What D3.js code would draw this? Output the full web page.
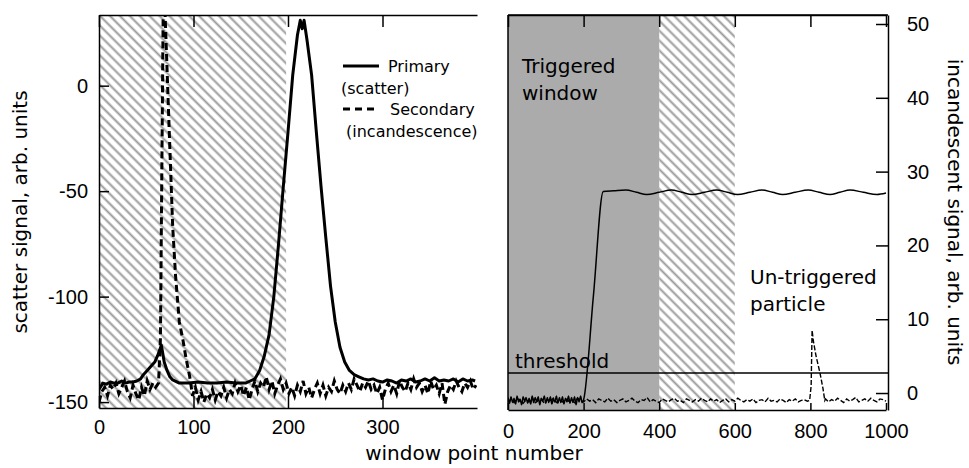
<!DOCTYPE html>
<html>
<head>
<meta charset="utf-8">
<script src="https://cdn.jsdelivr.net/npm/d3@7/dist/d3.min.js"></script>
<style>
  body { margin: 0; background: #fff; }
  svg { display: block; font-family: "DejaVu Sans", Verdana, sans-serif; }
  .axis path, .axis line { stroke: #000; stroke-width: 1.5; }
  .axis text { font-size: 20px; fill: #000; }
</style>
</head>
<body>
<svg id="chart" width="969" height="468"></svg>
<script>
'use strict';

// left panel: scatter channel (primary) and incandescence (secondary), window points
const scatterPrimary = [
  [0,-144],[4,-141],[8,-141.5],[12,-140.5],[16,-141],[20,-141],[24,-140],[28,-141],[32,-140.5],[36,-140.5],
  [40,-140],[44,-139],[47,-137],[51,-135],[55,-133],[59,-131],[62,-128],[66,-123],[69,-131],[72,-135],
  [75,-138],[78,-139.5],[85,-141],[95,-141],[105,-140.5],[115,-141],[125,-141],[135,-140.5],[145,-141],[155,-141],
  [160,-140],[165,-139],[170,-135],[175,-128],[180,-118],[185,-100],[190,-75],[195,-48],[200,-22],[205,5],
  [210,24],[213,31],[215,27],[217,31],[220,22],[225,5],[230,-22],[235,-48],[240,-72],[245,-95],
  [250,-112],[255,-124],[260,-131],[265,-135],[270,-137],[275,-138],[280,-139],[285,-139.5],[290,-139],[295,-140],
  [300,-140.5],[305,-139.5],[310,-140],[315,-141],[320,-139.5],[325,-140],[330,-139],[335,-140.5],[340,-140],[345,-139],
  [350,-140],[355,-138.5],[360,-140],[365,-139.5],[370,-140],[375,-139],[380,-140.5],[385,-139],[390,-140],[395,-139.5],[398,-140]
];

const scatterSecondary = [
  [0,-150],[3,-145],[6,-143],[9,-147],[12,-142],[15,-144],[18,-141],[21,-146],[24,-143],[27,-140],
  [30,-145],[33,-148],[36,-142],[39,-146],[42,-149],[45,-143],[48,-147],[51,-140],[54,-144],[57,-141],
  [60,-143],[63,-141],[65,-120],[68,40],[69,45],[70,33],[72,8],[75,-30],[78,-67],[81,-90],
  [85,-112],[89,-121],[92,-129],[96,-138],[99,-147],[102,-143],[105,-149],[108,-145],[111,-150],[114,-146],
  [117,-148],[120,-144],[123,-149],[126,-145],[129,-147],[132,-143],[135,-148],[138,-144],[141,-146],[144,-141],
  [147,-145],[150,-142],[153,-147],[156,-143],[159,-149],[162,-144],[165,-140],[168,-145],[171,-141],[174,-143],
  [177,-138],[180,-144],[183,-140],[186,-146],[189,-142],[192,-139],[195,-144],[198,-141],[201,-146],[204,-143],
  [207,-147],[210,-142],[213,-145],[216,-140],[219,-146],[222,-143],[225,-148],[228,-144],[231,-141],[234,-146],
  [237,-142],[240,-147],[243,-143],[246,-145],[249,-140],[252,-144],[255,-146],[258,-142],[261,-145],[264,-141],
  [267,-144],[270,-139],[273,-142],[276,-145],[279,-141],[282,-143],[285,-140],[288,-144],[291,-142],[294,-146],
  [297,-143],[300,-149],[303,-144],[306,-141],[309,-145],[312,-142],[315,-146],[318,-140],[321,-143],[324,-145],
  [327,-141],[330,-144],[333,-139],[336,-143],[339,-141],[342,-145],[345,-142],[348,-146],[351,-140],[354,-144],
  [357,-142],[360,-146],[363,-141],[366,-151],[369,-145],[372,-142],[375,-144],[378,-140],[381,-143],[384,-145],
  [387,-141],[390,-143],[393,-140],[396,-144],[399,-142]
];

// right panel: incandescent signal, 1000-point window
const incPrimary = [
  [0,-0.6],[4,-1.4],[8,-0.5],[12,-1.3],[16,-0.7],[20,-1.5],[24,-0.4],[28,-1.2],[32,-0.8],[36,-1.6],
  [40,-0.5],[44,-1.1],[48,-0.6],[52,-1.4],[56,-0.7],[60,-1.5],[64,-0.4],[68,-1.3],[72,-0.6],[76,-1.2],
  [80,-0.5],[84,-1.6],[88,-0.7],[92,-1.1],[96,-0.4],[100,-1.4],[104,-0.6],[108,-1.3],[112,-0.5],[116,-1.5],
  [120,-0.8],[124,-1.2],[128,-0.4],[132,-1.4],[136,-0.6],[140,-1.3],[144,-0.5],[148,-1.5],[152,-0.7],[156,-1.2],
  [160,-0.4],[164,-1.4],[168,-0.6],[172,-1.3],[176,-0.5],[180,-1.6],[184,-0.6],[188,-1.2],[192,-0.4],[196,-1.3],
  [200,-0.9],[226,13.2],[252,27.3],[280,27.4],[312,27.5],[340,27.2],[367,26.9],[400,27.2],[432,27.5],[460,27.2],
  [487,26.9],[520,27.2],[552,27.5],[580,27.2],[607,26.9],[640,27.2],[672,27.5],[700,27.2],[727,26.9],[760,27.2],
  [794,27.5],[823,27.2],[852,26.9],[878,27.2],[905,27.5],[940,27.2],[976,26.9],[1000,27.1]
];

const incSecondaryStep = 8;
const incSecondaryBefore = [
  -1.2,-0.8,-1.3,-0.7,-1.1,-1.4,-0.9,-1.2,-0.6,-1.3,
  -1.0,-0.8,-1.4,-0.9,-1.1,-0.7,-1.3,-1.0,-1.2,-0.8,
  -1.1,-0.9,-1.3,-0.7,-1.0,-1.2,-0.8,-1.1,-0.9,-1.3,
  -0.8,-1.0,-1.2,-0.7,-1.1,-0.9,-1.3,-1.0,-0.8,-1.2,
  -1.0,-0.7,-1.1,-1.3,-0.9,-1.0,-0.6,-1.2,-0.9,-1.1,
  -1.3,-0.8,-1.0,-1.2,-0.9,-0.7,-1.1,-1.0,-1.3,-0.8,
  -1.0,-1.2,-0.9,-1.1,-0.7,-1.0,-1.2,-0.8,-1.1,-0.9,
  -1.3,-1.0,-0.8,-1.2,-0.9,-1.1,-0.7,-1.0,-1.2,-0.9,
  -1.1,-0.8,-1.3,-1.0,-0.9,-1.2,-0.7,-1.1,-1.0,-1.2,
  -0.8,-1.0,-1.3,-0.9,-1.1,-0.8,-1.2,-1.0,-0.9,-1.1
];
const incSecondaryPeak = [[798,-1.0],[802,1.0],[804.5,8.5],[808,7.0],[815,5.0],[825,2.8],[833,0.7],[838,-1.0]];
const incSecondaryAfter = [
  -0.8,-1.2,-0.9,-1.1,-0.7,-1.0,-1.3,-0.8,-1.1,-0.9,
  -0.6,-1.2,-1.0,-0.8,-1.1,-0.7,-1.0,-1.2,-0.8,-0.9,-1.1
];

const leftXTicks = [0, 100, 200, 300];
const leftYTicks = [0, -50, -100, -150];
const rightXTicks = [0, 200, 400, 600, 800, 1000];
const rightYTicks = [0, 10, 20, 30, 40, 50];
const leftHatch = [0, 198];
const triggeredWindow = [0, 400];
const rightHatch = [400, 600];
const thresholdLevel = 2.7;

let svg = d3.select('#chart');

// hatch pattern
let defs = svg.append('defs');
defs.append('pattern')
    .attr('id', 'hatch')
    .attr('patternUnits', 'userSpaceOnUse')
    .attr('width', 7).attr('height', 7)
    .attr('patternTransform', 'rotate(-45)')
  .append('line')
    .attr('x1', 3.5).attr('y1', 0).attr('x2', 3.5).attr('y2', 7)
    .attr('stroke', '#9a9a9a').attr('stroke-width', 2);

// ---------- left panel ----------
let xL = d3.scaleLinear().domain([0, 400]).range([99, 477]);
let yL = d3.scaleLinear().domain([-152.8, 33.5]).range([408, 15]);

defs.append('clipPath').attr('id', 'clipL').append('rect')
    .attr('x', 99).attr('y', 15).attr('width', 378).attr('height', 393);

let left = svg.append('g');
left.append('rect')
    .attr('x', xL(leftHatch[0])).attr('y', 15)
    .attr('width', xL(leftHatch[1]) - xL(leftHatch[0])).attr('height', 393)
    .attr('fill', 'url(#hatch)');

let lineL = d3.line().x(d => xL(d[0])).y(d => yL(d[1]));
let plotL = left.append('g').attr('clip-path', 'url(#clipL)');
plotL.append('path').datum(scatterSecondary)
    .attr('d', lineL).attr('fill', 'none').attr('stroke', '#000')
    .attr('stroke-width', 3).attr('stroke-dasharray', '7,4');
plotL.append('path').datum(scatterPrimary)
    .attr('d', lineL).attr('fill', 'none').attr('stroke', '#000')
    .attr('stroke-width', 3).attr('stroke-linejoin', 'round');

left.append('g').attr('class', 'axis')
    .attr('transform', 'translate(0,408)')
    .call(d3.axisBottom(xL).tickValues(leftXTicks).tickSize(-12).tickSizeOuter(0).tickPadding(12)
        .tickFormat(d => String(d)));
left.append('g').attr('class', 'axis')
    .attr('transform', 'translate(0,15)')
    .call(d3.axisTop(xL).tickValues(leftXTicks).tickSize(-12).tickSizeOuter(0).tickFormat(''));
left.append('g').attr('class', 'axis')
    .attr('transform', 'translate(99,0)')
    .call(d3.axisLeft(yL).tickValues(leftYTicks).tickSize(-10).tickSizeOuter(0).tickPadding(11)
        .tickFormat(d => String(d)));

left.append('text')
    .attr('transform', 'translate(27,212) rotate(-90)')
    .attr('text-anchor', 'middle').attr('font-size', 20)
    .text('scatter signal, arb. units');

// legend
let legend = left.append('g').attr('font-size', 16);
legend.append('line').attr('x1', 343).attr('x2', 379).attr('y1', 66).attr('y2', 66)
    .attr('stroke', '#000').attr('stroke-width', 3);
legend.append('text').attr('x', 388).attr('y', 72).text('Primary');
legend.append('text').attr('x', 341).attr('y', 94).text('(scatter)');
legend.append('line').attr('x1', 343).attr('x2', 378).attr('y1', 109).attr('y2', 109)
    .attr('stroke', '#000').attr('stroke-width', 3).attr('stroke-dasharray', '7,5');
legend.append('text').attr('x', 390).attr('y', 115).text('Secondary');
legend.append('text').attr('x', 346).attr('y', 137).text('(incandescence)');

// ---------- right panel ----------
let xR = d3.scaleLinear().domain([0, 1000]).range([508, 886]);
let yR = d3.scaleLinear().domain([-2.3, 51.22]).range([410, 15]);

defs.append('clipPath').attr('id', 'clipR').append('rect')
    .attr('x', 508).attr('y', 15).attr('width', 380).attr('height', 395);

let right = svg.append('g');
right.append('rect')
    .attr('x', xR(triggeredWindow[0])).attr('y', 15)
    .attr('width', xR(triggeredWindow[1]) - xR(triggeredWindow[0])).attr('height', 395)
    .attr('fill', '#ababab');
right.append('rect')
    .attr('x', xR(rightHatch[0])).attr('y', 15)
    .attr('width', xR(rightHatch[1]) - xR(rightHatch[0])).attr('height', 395)
    .attr('fill', 'url(#hatch)');

right.append('line')
    .attr('x1', 508).attr('x2', 888)
    .attr('y1', yR(thresholdLevel)).attr('y2', yR(thresholdLevel))
    .attr('stroke', '#000').attr('stroke-width', 1.5);

let incSecondary = incSecondaryBefore.map((v, i) => [i * incSecondaryStep, v])
    .concat(incSecondaryPeak)
    .concat(incSecondaryAfter.map((v, i) => [840 + i * incSecondaryStep, v]));

let plotR = right.append('g').attr('clip-path', 'url(#clipR)');
plotR.append('path').datum(incSecondary)
    .attr('d', d3.line().x(d => xR(d[0])).y(d => yR(d[1])))
    .attr('fill', 'none').attr('stroke', '#000')
    .attr('stroke-width', 1.4).attr('stroke-dasharray', '5,2');
plotR.append('path').datum(incPrimary)
    .attr('d', d3.line().curve(d3.curveMonotoneX).x(d => xR(d[0])).y(d => yR(d[1])))
    .attr('fill', 'none').attr('stroke', '#000').attr('stroke-width', 1.5);

right.append('g').attr('class', 'axis')
    .attr('transform', 'translate(0,410)')
    .call(d3.axisBottom(xR).tickValues(rightXTicks).tickSize(-7).tickSizeOuter(0).tickPadding(14)
        .tickFormat(d => String(d)));
right.append('g').attr('class', 'axis')
    .attr('transform', 'translate(0,15)')
    .call(d3.axisTop(xR).tickValues(rightXTicks).tickSize(-12).tickSizeOuter(0).tickFormat(''));
right.append('line').attr('x1', 508).attr('x2', 508).attr('y1', 15).attr('y2', 410)
    .attr('stroke', '#000').attr('stroke-width', 1.5);
right.append('line').attr('x1', 508).attr('x2', 888).attr('y1', 15).attr('y2', 15)
    .attr('stroke', '#000').attr('stroke-width', 1.5);
right.append('g').attr('class', 'axis')
    .attr('transform', 'translate(888,0)')
    .call(d3.axisRight(yR).tickValues(rightYTicks).tickSize(-12).tickSizeOuter(0).tickPadding(19));

right.append('text')
    .attr('transform', 'translate(948,212) rotate(90)')
    .attr('text-anchor', 'middle').attr('font-size', 20)
    .text('incandescent signal, arb. units');

let notes = right.append('g').attr('font-size', 20);
notes.append('text').attr('x', 522).attr('y', 73).text('Triggered');
notes.append('text').attr('x', 522).attr('y', 100).text('window');
notes.append('text').attr('x', 515).attr('y', 368).text('threshold');
notes.append('text').attr('x', 750).attr('y', 284).text('Un-triggered');
notes.append('text').attr('x', 750).attr('y', 311).text('particle');

svg.append('text')
    .attr('x', 474).attr('y', 460)
    .attr('text-anchor', 'middle').attr('font-size', 20)
    .text('window point number');
</script>
</body>
</html>
